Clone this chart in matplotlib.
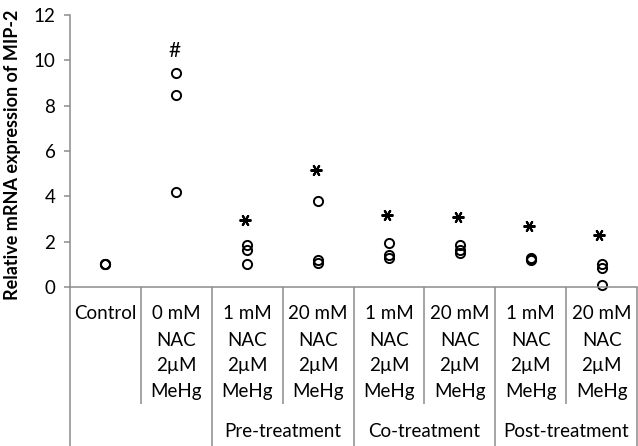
import numpy as np
import matplotlib.pyplot as plt
import matplotlib.transforms as mtransforms

plt.rcParams['font.family'] = ['Lato', 'DejaVu Sans']

# category labels (one list of lines per column)
col_labels = [
    ['Control'],
    ['0 mM', 'NAC', '2\u00b5M', 'MeHg'],
    ['1 mM', 'NAC', '2\u00b5M', 'MeHg'],
    ['20 mM', 'NAC', '2\u00b5M', 'MeHg'],
    ['1 mM', 'NAC', '2\u00b5M', 'MeHg'],
    ['20 mM', 'NAC', '2\u00b5M', 'MeHg'],
    ['1 mM', 'NAC', '2\u00b5M', 'MeHg'],
    ['20 mM', 'NAC', '2\u00b5M', 'MeHg'],
]
group_names = ['', 'Pre-treatment', 'Co-treatment', 'Post-treatment']
group_sizes = [2, 2, 2, 2]

# individual measurements per column
values = [
    [1.0, 1.0, 1.0],
    [9.44, 8.47, 4.18],
    [1.85, 1.62, 1.0],
    [3.79, 1.21, 1.08],
    [1.92, 1.40, 1.30],
    [1.85, 1.65, 1.50],
    [1.30, 1.25, 1.18],
    [1.03, 0.86, 0.10],
]

# significance marks
marks = ['', '#', '*', '*', '*', '*', '*', '*']
mark_y = [np.nan, 10.4, 2.95, 5.16, 3.17, 3.07, 2.69, 2.29]

grey = '#8c8c8c'

fig = plt.figure(figsize=(6.38, 4.46), dpi=100)
ax = fig.add_axes([70 / 638, 159 / 446, 567 / 638, 272 / 446])

for i, vals in enumerate(values):
    ax.plot([i + 0.5] * len(vals), vals, 'o', mfc='none', mec='black',
            ms=6.6, mew=1.4, clip_on=False)
    if marks[i] == '*':
        ax.plot(i + 0.47, mark_y[i], marker=(6, 2, 90), color='black',
                ms=8.5, mew=1.5, ls='none')
    elif marks[i]:
        ax.text(i + 0.47, mark_y[i], marks[i], ha='center', va='center',
                fontsize=15, color='black')

ax.set_xlim(0, len(values))
ax.set_ylim(0, 12)
ax.set_yticks(range(0, 13, 2))
ax.set_xticks([])
ax.tick_params(axis='y', length=4.5, width=1.1, color=grey, labelsize=13.5, pad=6)
ax.set_ylabel('Relative mRNA expression of MIP-2', fontsize=13,
              fontweight='bold')
ax.yaxis.set_label_coords(-49 / 567, 0.485)
for s in ['top', 'right']:
    ax.spines[s].set_visible(False)
for s in ['left', 'bottom']:
    ax.spines[s].set_color(grey)
    ax.spines[s].set_linewidth(1.1)

# table-like category axis below the plot
trans = mtransforms.blended_transform_factory(ax.transData, ax.transAxes)
row_y = [-0.099, -0.195, -0.290, -0.386]
for i, lines in enumerate(col_labels):
    for j, line in enumerate(lines):
        ax.text(i + 0.5, row_y[j], line, transform=trans, ha='center',
                va='center', fontsize=13.5)

bounds = np.cumsum([0] + group_sizes)
full_y = -159 / 272
inner_y = -0.430
for b in range(len(values) + 1):
    bottom = full_y if b in bounds else inner_y
    ax.plot([b, b], [0, bottom], transform=trans, color=grey, lw=1.1,
            clip_on=False, solid_capstyle='butt')

for g, name in enumerate(group_names):
    center = (bounds[g] + bounds[g + 1]) / 2
    ax.text(center, -0.533, name, transform=trans, ha='center', va='center',
            fontsize=13.5)

fig.savefig('out.png', dpi=100)
